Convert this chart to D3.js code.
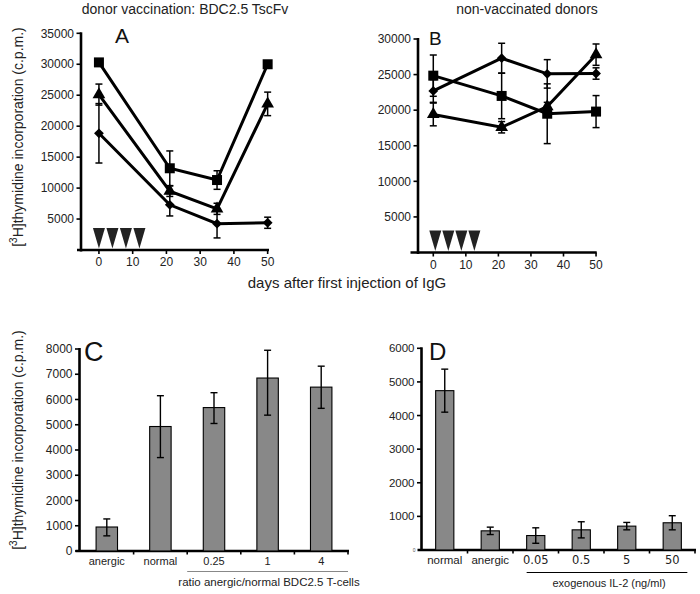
<!DOCTYPE html>
<html><head><meta charset="utf-8">
<script src="https://cdn.jsdelivr.net/npm/d3@7/dist/d3.min.js"></script>
<style>
html,body{margin:0;padding:0;background:#fff;}
svg{display:block;font-family:"Liberation Sans",Arial,sans-serif;}
</style></head>
<body>
<svg id="chart" width="700" height="594"></svg>
<script>
// ---------- DATA ----------
const days = [0, 21, 35, 50];
const injectionDays = [0, 4, 8, 12];
const xTicksDays = [0, 10, 20, 30, 40, 50];

// Panel A: donor vaccination
const aSquare = [30300, 13200, 11300, 30000];
const aSquareErr = [300, 2800, 1500, 300];
const aTriangle = [25100, 9500, 6650, 23600];
const aTriangleErr = [1700, 850, 900, 1900];
const aDiamond = [18850, 7300, 4250, 4400];
const aDiamondErr = [4800, 1800, 2300, 900];
const aYTicks = [5000, 10000, 15000, 20000, 25000, 30000, 35000];

// Panel B: non-vaccinated donors
const bSquare = [24850, 22000, 19500, 19800];
const bSquareErr = [2900, 3200, 4200, 2250];
const bTriangle = [19400, 17600, 20500, 27800];
const bTriangleErr = [1600, 800, 600, 1500];
const bDiamond = [22700, 27300, 25100, 25150];
const bDiamondErr = [1600, 2100, 2000, 800];
const bYTicks = [5000, 10000, 15000, 20000, 25000, 30000];

// Panel C
const cCategories = ["anergic", "normal", "0.25", "1", "4"];
const cValues = [950, 4930, 5680, 6850, 6490];
const cErrHi = [320, 1220, 590, 1100, 830];
const cErrLo = [350, 1230, 630, 1470, 840];
const cYTicks = [0, 1000, 2000, 3000, 4000, 5000, 6000, 7000, 8000];

// Panel D
const dCategories = ["normal", "anergic", "0.05", "0.5", "5", "50"];
const dValues = [4740, 570, 430, 600, 710, 810];
const dErrHi = [640, 110, 230, 240, 110, 210];
const dErrLo = [640, 110, 230, 240, 110, 210];
const dYTicks = [1000, 2000, 3000, 4000, 5000, 6000];

// ---------- DRAW ----------
const svg = d3.select("#chart");
const ink = "#000";
const barFill = "#888888";

function yTitle(x, cy) {
  const t = svg.append("text")
    .attr("transform", `translate(${x},${cy}) rotate(-90)`)
    .attr("text-anchor", "middle")
    .attr("font-size", 14).attr("fill", "#222");
  t.append("tspan").text("[");
  t.append("tspan").attr("font-size", 10).attr("dy", -6).text("3");
  t.append("tspan").attr("dy", 6).text("H]thymidine incorporation (c.p.m.)");
}

function linePanel(opt) {
  const g = svg.append("g");
  const x = d3.scaleLinear().domain(opt.xDomain).range(opt.xRange);
  const y = d3.scaleLinear().domain(opt.yDomain).range(opt.yRange);
  const x0 = opt.xRange[0], yBase = opt.yRange[0];
  const axisX = opt.axisX;

  g.append("line").attr("x1", axisX).attr("x2", axisX)
    .attr("y1", y(opt.yDomain[1]) - 1).attr("y2", yBase + 1.5)
    .attr("stroke", ink).attr("stroke-width", 2.6);
  g.append("line").attr("x1", x0).attr("x2", opt.xRange[1])
    .attr("y1", yBase).attr("y2", yBase)
    .attr("stroke", ink).attr("stroke-width", 2.6);

  opt.yTicks.forEach(v => {
    g.append("line").attr("x1", axisX - 4.5).attr("x2", axisX)
      .attr("y1", y(v)).attr("y2", y(v)).attr("stroke", ink).attr("stroke-width", 1.6);
    g.append("text").attr("x", axisX - 7).attr("y", y(v)).attr("dy", "0.35em")
      .attr("text-anchor", "end").attr("font-size", 12).attr("fill", "#222").text(v);
  });
  xTicksDays.forEach(v => {
    g.append("line").attr("x1", x(v)).attr("x2", x(v))
      .attr("y1", yBase).attr("y2", yBase + 4).attr("stroke", ink).attr("stroke-width", 1.6);
    g.append("text").attr("x", x(v)).attr("y", yBase + 16)
      .attr("text-anchor", "middle").attr("font-size", 12).attr("fill", "#222").text(v);
  });

  injectionDays.forEach(d => {
    const cx = x(d) + opt.arrowShift, top = yBase - 22, w = 6;
    g.append("path").attr("d", `M${cx - w},${top}L${cx + w},${top}L${cx},${yBase - 1.5}Z`)
      .attr("fill", "#222");
  });

  const line = d3.line().x((d, i) => x(days[i])).y(d => y(d));
  const series = [
    {v: opt.sq, e: opt.sqE, sym: d3.symbolSquare, size: 100, rot: 0},
    {v: opt.tr, e: opt.trE, sym: d3.symbolTriangle, size: 70, rot: 0},
    {v: opt.di, e: opt.diE, sym: d3.symbolSquare, size: 48, rot: 45}
  ];
  series.forEach(s => {
    s.v.forEach((v, i) => {
      const cx = x(days[i]), hi = y(v + s.e[i]), lo = y(v - s.e[i]);
      g.append("line").attr("x1", cx).attr("x2", cx).attr("y1", hi).attr("y2", lo)
        .attr("stroke", ink).attr("stroke-width", 1.5);
      [hi, lo].forEach(yy => g.append("line").attr("x1", cx - 3.5).attr("x2", cx + 3.5)
        .attr("y1", yy).attr("y2", yy).attr("stroke", ink).attr("stroke-width", 1.5));
    });
    g.append("path").attr("d", line(s.v)).attr("fill", "none")
      .attr("stroke", ink).attr("stroke-width", 3);
    s.v.forEach((v, i) => {
      g.append("path").attr("d", d3.symbol().type(s.sym).size(s.size)())
        .attr("transform", `translate(${x(days[i])},${y(v)}) rotate(${s.rot})`)
        .attr("fill", ink);
    });
  });

  g.append("text").attr("x", opt.letter[0]).attr("y", opt.letter[1])
    .attr("font-size", opt.letter[2]).attr("fill", "#111").text(opt.letter[3]);
  g.append("text").attr("x", opt.title[0]).attr("y", opt.title[1])
    .attr("text-anchor", "middle").attr("font-size", 14).attr("fill", "#222").text(opt.title[2]);
}

linePanel({
  xDomain: [-6.5, 50.4], xRange: [77, 269], yDomain: [0, 35000], yRange: [250, 33.3],
  axisX: 81, yTicks: aYTicks, arrowShift: 0,
  sq: aSquare, sqE: aSquareErr, tr: aTriangle, trE: aTriangleErr, di: aDiamond, diE: aDiamondErr,
  letter: [115, 43, 21, "A"], title: [185, 14, "donor vaccination: BDC2.5 TscFv"]
});
linePanel({
  xDomain: [-7, 50.2], xRange: [410.5, 596.7], yDomain: [0, 30000], yRange: [252.5, 39],
  axisX: 418, yTicks: bYTicks, arrowShift: 2,
  sq: bSquare, sqE: bSquareErr, tr: bTriangle, trE: bTriangleErr, di: bDiamond, diE: bDiamondErr,
  letter: [429, 45, 19, "B"], title: [527, 14, "non-vaccinated donors"]
});

svg.append("text").attr("x", 347).attr("y", 288).attr("text-anchor", "middle")
  .attr("font-size", 15).attr("fill", "#222").text("days after first injection of IgG");

yTitle(23, 137);
yTitle(23, 440);

function barPanel(opt) {
  const g = svg.append("g");
  const x = d3.scaleBand().domain(opt.cats).range(opt.xRange).paddingInner(0.6).paddingOuter(0.3);
  const y = d3.scaleLinear().domain(opt.yDomain).range(opt.yRange);
  const yBase = opt.yRange[0], axisX = opt.xRange[0] - 0.5;
  const step = x.step();

  g.append("line").attr("x1", axisX).attr("x2", axisX)
    .attr("y1", y(opt.yDomain[1]) - 1).attr("y2", yBase + 1)
    .attr("stroke", ink).attr("stroke-width", 2.6);
  g.append("line").attr("x1", axisX - 4).attr("x2", opt.xRange[1] + 1)
    .attr("y1", yBase).attr("y2", yBase).attr("stroke", ink).attr("stroke-width", 2.6);

  opt.yTicks.forEach(v => {
    g.append("line").attr("x1", axisX - 4.5).attr("x2", axisX)
      .attr("y1", y(v)).attr("y2", y(v)).attr("stroke", ink).attr("stroke-width", 1.6);
    g.append("text").attr("x", axisX - 7).attr("y", y(v)).attr("dy", "0.35em")
      .attr("text-anchor", "end").attr("font-size", opt.tickFont).attr("fill", "#222").text(v);
  });
  if (opt.tinyZero) {
    g.append("text").attr("x", axisX - 6).attr("y", yBase).attr("dy", "0.35em")
      .attr("text-anchor", "end").attr("font-size", 5).attr("fill", "#555").text("0");
  }
  opt.cats.forEach((c, i) => {
    const bx = opt.xRange[0] + step * (i + 1);
    g.append("line").attr("x1", bx).attr("x2", bx).attr("y1", yBase).attr("y2", yBase + 3.5)
      .attr("stroke", ink).attr("stroke-width", 1.6);
  });

  opt.vals.forEach((v, i) => {
    const c = opt.cats[i], bx = x(c), bw = x.bandwidth(), cx = bx + bw / 2;
    g.append("rect").attr("x", bx).attr("y", y(v)).attr("width", bw).attr("height", yBase - y(v))
      .attr("fill", barFill).attr("stroke", ink).attr("stroke-width", 1.1);
    const hi = y(v + opt.errHi[i]), lo = y(v - opt.errLo[i]);
    g.append("line").attr("x1", cx).attr("x2", cx).attr("y1", hi).attr("y2", lo)
      .attr("stroke", ink).attr("stroke-width", 1.4);
    [hi, lo].forEach(yy => g.append("line").attr("x1", cx - 3.5).attr("x2", cx + 3.5)
      .attr("y1", yy).attr("y2", yy).attr("stroke", ink).attr("stroke-width", 1.4));
    const numeric = !isNaN(+c);
    g.append("text").attr("x", cx).attr("y", yBase + 14).attr("text-anchor", "middle")
      .attr("font-family", numeric ? opt.numFamily : "Liberation Sans")
      .attr("font-size", numeric ? opt.numFont : opt.catFont).attr("fill", "#222").text(c);
  });

  const gx0 = opt.groupFrom(x, step), gx1 = opt.groupTo(x, step);
  g.append("line").attr("x1", gx0).attr("x2", gx1).attr("y1", opt.groupY).attr("y2", opt.groupY)
    .attr("stroke", opt.groupColor).attr("stroke-width", 1);
  g.append("text").attr("x", opt.groupLabelX).attr("y", opt.groupY + 14).attr("text-anchor", "middle")
    .attr("font-size", opt.groupFont).attr("fill", "#222").text(opt.groupLabel);

  g.append("text").attr("x", opt.letter[0]).attr("y", opt.letter[1])
    .attr("font-size", opt.letter[2]).attr("fill", "#111").text(opt.letter[3]);
}

barPanel({
  cats: cCategories, vals: cValues, errHi: cErrHi, errLo: cErrLo, yTicks: cYTicks,
  xRange: [80, 348], yDomain: [0, 8000], yRange: [551, 349], tickFont: 12,
  catFont: 11, numFont: 11, numFamily: "Liberation Sans",
  groupFrom: (x, s) => x("0.25") - s * 0.3, groupTo: (x, s) => 348,
  groupY: 571.5, groupColor: "#888", groupLabel: "ratio anergic/normal BDC2.5 T-cells",
  groupLabelX: 269, groupFont: 11.5,
  letter: [84, 361, 27, "C"]
});
barPanel({
  cats: dCategories, vals: dValues, errHi: dErrHi, errLo: dErrLo, yTicks: dYTicks, tinyZero: true,
  xRange: [422, 695], yDomain: [0, 6000], yRange: [550, 348.3], tickFont: 11.5,
  catFont: 11.5, numFont: 11.5, numFamily: "DejaVu Sans",
  groupFrom: (x, s) => x("0.05"), groupTo: (x, s) => x("50") + x.bandwidth() + 6,
  groupY: 572.5, groupColor: "#000", groupLabel: "exogenous IL-2 (ng/ml)",
  groupLabelX: 609, groupFont: 11,
  letter: [429, 360, 24, "D"]
});
</script>
</body></html>
